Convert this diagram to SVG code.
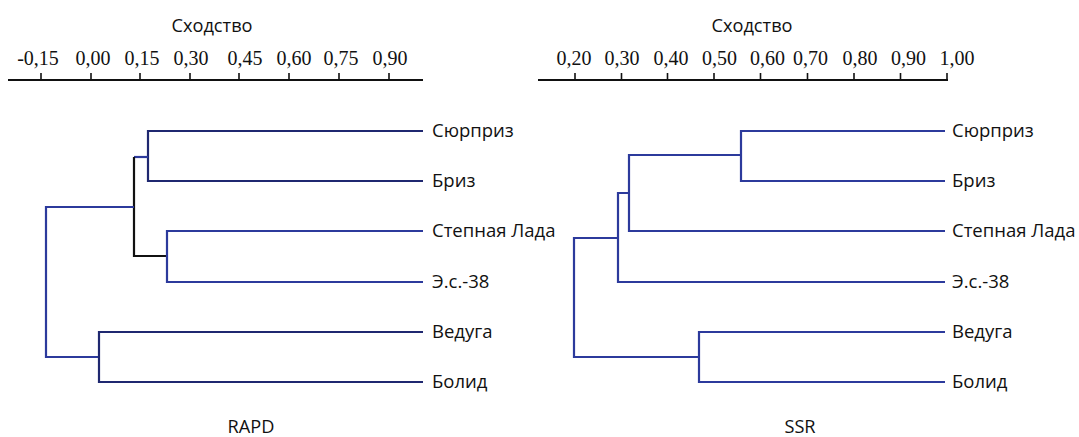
<svg xmlns="http://www.w3.org/2000/svg" width="1079" height="437" viewBox="0 0 1079 437">
<style>
.axis{stroke:#111;stroke-width:2;fill:none}
.tick{stroke:#111;stroke-width:1.6;fill:none}
.num{font-family:"Liberation Serif","Times New Roman",serif;font-size:20px;fill:#111;text-anchor:middle}
.ttl{font-family:"Open Sans","Noto Sans",sans-serif;font-size:18.2px;fill:#111;text-anchor:middle}
.lbl{font-family:"Open Sans","Noto Sans",sans-serif;font-size:18.5px;fill:#111}
.blue{stroke:#2c3a9c;stroke-width:2.2;fill:none}
.navy{stroke:#1f2870;stroke-width:2.2;fill:none}
.blk{stroke:#111;stroke-width:2.2;fill:none}
</style>
<rect width="1079" height="437" fill="#fff"/>
<g id="axis-left">
<text class="ttl" x="212" y="32">Сходство</text>
<text class="num" x="38" y="65">-0,15</text>
<text class="num" x="93" y="65">0,00</text>
<text class="num" x="142" y="65">0,15</text>
<text class="num" x="191" y="65">0,30</text>
<text class="num" x="245" y="65">0,45</text>
<text class="num" x="294" y="65">0,60</text>
<text class="num" x="341" y="65">0,75</text>
<text class="num" x="390" y="65">0,90</text>
<path class="axis" d="M8,80 H423"/>
<path class="tick" d="M41,73V80M91,73V80M140,73V80M190,73V80M239,73V80M289,73V80M339,73V80M389,73V80"/>
</g>
<g id="axis-right">
<text class="ttl" x="752" y="32">Сходство</text>
<text class="num" x="574" y="65">0,20</text>
<text class="num" x="622" y="65">0,30</text>
<text class="num" x="671" y="65">0,40</text>
<text class="num" x="719.5" y="65">0,50</text>
<text class="num" x="767.5" y="65">0,60</text>
<text class="num" x="810.5" y="65">0,70</text>
<text class="num" x="860" y="65">0,80</text>
<text class="num" x="908.5" y="65">0,90</text>
<text class="num" x="957" y="65">1,00</text>
<path class="axis" d="M538,80 H948"/>
<path class="tick" d="M575,73V80M621.5,73V80M667.5,73V80M714,73V80M760.5,73V80M807.5,73V80M854,73V80M900.5,73V80M947,73V80"/>
</g>
<g id="connectors">
<path class="navy" d="M423,131 H148 V181 H423"/>
<path class="blue" d="M148,157 H134"/>
<path class="blk" d="M134,157 V256 H167"/>
<path class="blue" d="M423,231 H167 V282 H423"/>
<path class="blue" d="M134,207 H46 V357 H99"/>
<path class="navy" d="M423,332 H99 V382 H423"/>
<path class="blue" d="M945,131 H741 V181 H945"/>
<path class="blue" d="M741,155 H629 V231 H945"/>
<path class="blue" d="M629,193 H618 V282 H945"/>
<path class="blue" d="M618,238 H574 V357 H699"/>
<path class="blue" d="M945,332 H699 V382 H945"/>
</g>
<g id="labels-left">
<text class="lbl" x="432" y="137">Сюрприз</text>
<text class="lbl" x="432" y="187">Бриз</text>
<text class="lbl" x="432" y="237">Степная Лада</text>
<text class="lbl" x="432" y="288">Э.с.-38</text>
<text class="lbl" x="432" y="338">Ведуга</text>
<text class="lbl" x="432" y="388">Болид</text>
</g>
<g id="labels-right">
<text class="lbl" x="952" y="137">Сюрприз</text>
<text class="lbl" x="952" y="187">Бриз</text>
<text class="lbl" x="952" y="237">Степная Лада</text>
<text class="lbl" x="952" y="288">Э.с.-38</text>
<text class="lbl" x="952" y="338">Ведуга</text>
<text class="lbl" x="952" y="388">Болид</text>
</g>
<g id="captions">
<text class="ttl" x="251" y="433">RAPD</text>
<text class="ttl" x="800" y="433">SSR</text>
</g>
</svg>
